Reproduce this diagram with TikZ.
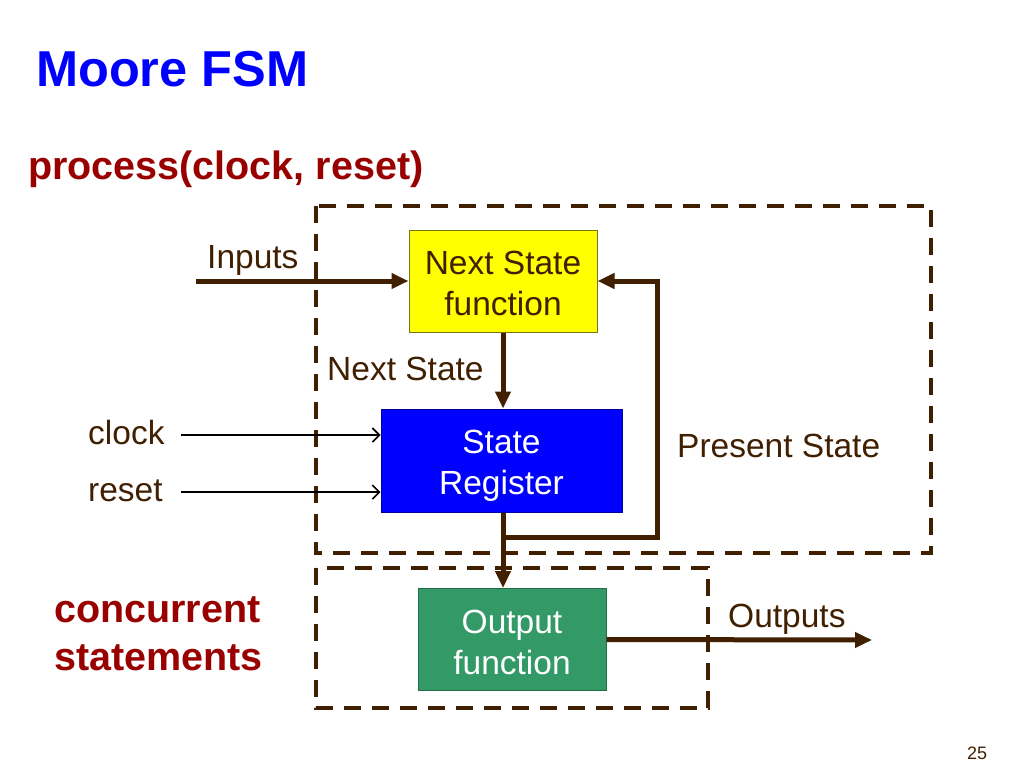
\documentclass[tikz,border=0pt]{standalone}
\usepackage{fontspec}
\setmainfont{Liberation Sans}
\usetikzlibrary{arrows.meta}
\definecolor{brn}{RGB}{64,32,0}
\definecolor{ttlblue}{RGB}{0,0,255}
\definecolor{dred}{RGB}{153,0,0}
\definecolor{ylw}{RGB}{255,255,0}
\definecolor{grn}{RGB}{51,153,102}
\tikzset{
  lbl/.style={anchor=base west,inner sep=0pt,text=brn,font=\fontsize{33.5}{41}\selectfont},
  redlbl/.style={anchor=base west,inner sep=0pt,text=dred,font=\fontsize{39.5}{48}\selectfont\bfseries},
  blk/.style={draw,line width=1pt,inner sep=0pt},
  blktext/.style={inner sep=0pt,align=center,font=\fontsize{33.5}{41}\selectfont},
  fat/.style={draw=brn,line width=5pt,-{Triangle[length=17pt,width=15pt]}},
  thin/.style={draw=black,line width=1.6pt,-{Straight Barb[length=7pt,width=14pt,line width=1.6pt]}},
  dashbox/.style={draw=brn,line width=4pt,dash pattern=on 17pt off 11pt}
}
\begin{document}
\begin{tikzpicture}[x=1pt,y=-1pt]
\useasboundingbox[fill=white] (0,0) rectangle (1024,768);
% titles
\node[anchor=base west,inner sep=0pt,text=ttlblue,font=\fontsize{50.5}{60}\selectfont\bfseries] (title) at (36,86) {Moore FSM};
\node[redlbl] (proc) at (28,179) {process(clock, reset)};
\node[redlbl] (conc1) at (54,622) {concurrent};
\node[redlbl] (conc2) at (54,670) {statements};
\node[anchor=base west,inner sep=0pt,text=brn,font=\fontsize{18}{22}\selectfont] (pg) at (967,759) {25};
% dashed regions
\draw[dashbox] (316,206) rectangle (931,553);
\draw[dashbox] (316,568) rectangle (708,708);
% blocks
\node[blk,fill=ylw,draw=olive!80!black,minimum width=188pt,minimum height=102pt] (nsf) at (503,281) {};
\node[blktext,text=brn,yshift=-2pt] (nsft) at (nsf.center) {Next State\\function};
\node[blk,fill=ttlblue,draw=blue!60!black,minimum width=241pt,minimum height=103pt] (reg) at (501.5,460.5) {};
\node[blktext,text=white,yshift=-5pt] (regt) at (reg.center) {State\\Register};
\node[blk,fill=grn,draw=grn!70!black,minimum width=188pt,minimum height=102pt] (out) at (512,639.5) {};
\node[blktext,text=white,yshift=-3pt] (outt) at (out.center) {Output\\function};
% labels
\node[lbl] (inl) at (207,268) {Inputs};
\node[lbl] (nsl) at (327,380) {Next State};
\node[lbl] (clkl) at (88,444) {clock};
\node[lbl] (rstl) at (88,501) {reset};
\node[lbl] (psl) at (677,457) {Present State};
\node[lbl] (outl) at (728,627) {Outputs};
% coordinates
\coordinate (inS) at (196,281);
\coordinate (clkS) at (181,435);
\coordinate (rstS) at (181,492);
\coordinate (fb) at (657,537);
\coordinate (outE) at (872,640);
% connectors
\draw[fat] (inS) -- (nsf.west);
\draw[fat] (nsf.south) -- (nsf.south |- reg.north);
\draw[fat] (nsf.south |- reg.south) |- (fb) |- (nsf.east);
\draw[fat] (nsf.south |- reg.south) -- (nsf.south |- out.north);
\draw[fat] (out.east) -- (outE);
\draw[thin] (clkS) -- (clkS -| reg.west);
\draw[thin] (rstS) -- (rstS -| reg.west);
\end{tikzpicture}
\end{document}
